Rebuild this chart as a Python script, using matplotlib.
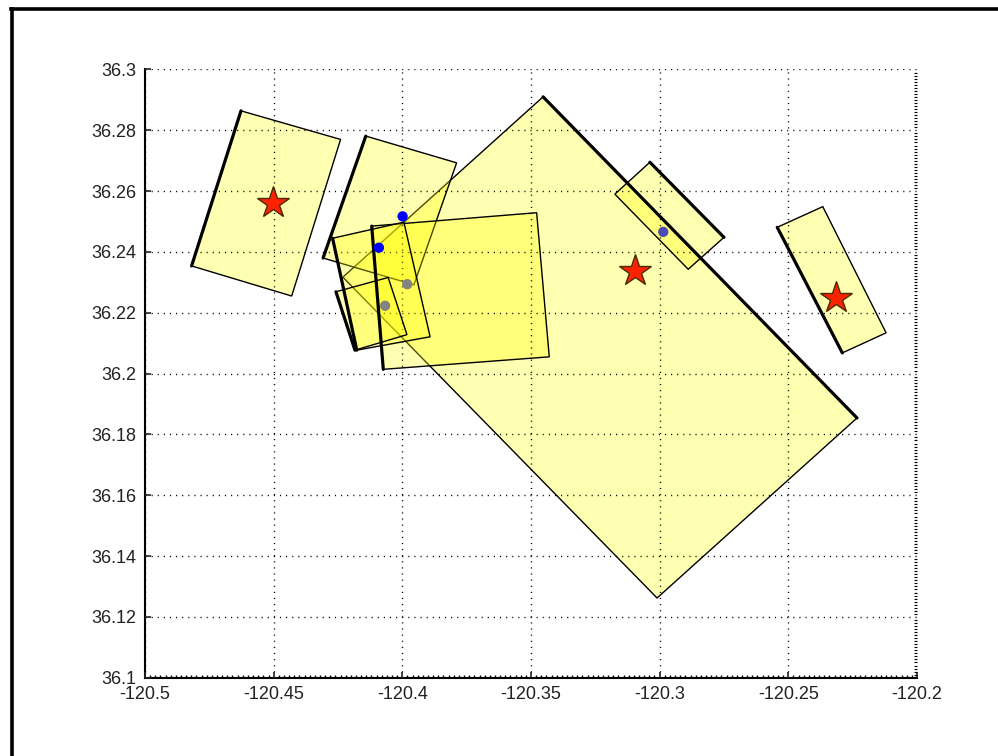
import numpy as np
import matplotlib
matplotlib.use('Agg')
import matplotlib.pyplot as plt
from matplotlib.patches import Polygon
from matplotlib.lines import Line2D
from matplotlib.ticker import MultipleLocator

plt.rcParams['font.family'] = ['Liberation Sans', 'DejaVu Sans']

# fault patches: corner longitudes / latitudes
patch_c_lon = [-120.3453, -120.2233, -120.3010, -120.4231]
patch_c_lat = [36.2910, 36.1854, 36.1262, 36.2317]
patch_a_lon = [-120.4627, -120.4240, -120.4430, -120.4819]
patch_a_lat = [36.2864, 36.2770, 36.2255, 36.2354]
patch_e_lon = [-120.2366, -120.2120, -120.2290, -120.2543]
patch_e_lat = [36.2549, 36.2134, 36.2068, 36.2481]
patch_d_lon = [-120.3038, -120.2750, -120.2889, -120.3174]
patch_d_lat = [36.2695, 36.2448, 36.2343, 36.2590]
patch_b_lon = [-120.4142, -120.3789, -120.3955, -120.4308]
patch_b_lat = [36.2781, 36.2693, 36.2292, 36.2380]
patch_f_lon = [-120.4119, -120.3478, -120.3429, -120.4074]
patch_f_lat = [36.2485, 36.2529, 36.2055, 36.2014]
patch_g_lon = [-120.4271, -120.3994, -120.3892, -120.4177]
patch_g_lat = [36.2445, 36.2498, 36.2121, 36.2077]
patch_h_lon = [-120.4258, -120.4055, -120.3982, -120.4184]
patch_h_lat = [36.2269, 36.2316, 36.2128, 36.2077]

patch_lons = [patch_c_lon, patch_a_lon, patch_e_lon, patch_d_lon,
              patch_b_lon, patch_f_lon, patch_g_lon, patch_h_lon]
patch_lats = [patch_c_lat, patch_a_lat, patch_e_lat, patch_d_lat,
              patch_b_lat, patch_f_lat, patch_g_lat, patch_h_lat]
# which side is the fault trace (index of its first corner)
trace_edge = [0, 3, 2, 0, 3, 3, 3, 3]

# epicentres (stars)
star_lon = [-120.4501, -120.3096, -120.2315]
star_lat = [36.2560, 36.2337, 36.2247]

# hypocentre dots
dot_lon = [-120.3999, -120.4091, -120.3981, -120.4067, -120.2986]
dot_lat = [36.2517, 36.2414, 36.2294, 36.2223, 36.2466]
dot_col = ['#0000ff', '#0000ff', '#828282', '#828282', '#4c4cb2']

x_ticks = [-120.5, -120.45, -120.4, -120.35, -120.3, -120.25, -120.2]
y_ticks = [36.1, 36.12, 36.14, 36.16, 36.18, 36.2, 36.22, 36.24, 36.26, 36.28, 36.3]

fig = plt.figure(figsize=(9.98, 7.56), dpi=100)
ax = fig.add_axes([0.1453, 0.1036, 0.7735, 0.8045])

for i in range(len(patch_lons)):
    xy = np.column_stack([patch_lons[i], patch_lats[i]])
    ax.add_patch(Polygon(xy, closed=True, facecolor=(1, 1, 0, 0.3),
                         edgecolor='black', linewidth=1.0, zorder=2 + i * 0.1))

# fault traces drawn thicker
for i in range(len(patch_lons)):
    k = trace_edge[i]
    k2 = (k + 1) % 4
    ax.plot([patch_lons[i][k], patch_lons[i][k2]],
            [patch_lats[i][k], patch_lats[i][k2]],
            color='black', linewidth=2.3, zorder=4, solid_capstyle='round')

ax.scatter(dot_lon, dot_lat, s=55, c=dot_col, edgecolors='none', zorder=5)
ax.plot(star_lon, star_lat, linestyle='none', marker='*', markersize=24,
        markerfacecolor='#ff2200', markeredgecolor='#4a2a00',
        markeredgewidth=1.0, zorder=6)

ax.set_xlim(-120.5, -120.2)
ax.set_ylim(36.1, 36.3)
ax.set_xticks(x_ticks)
ax.set_xticklabels(['%g' % round(v, 2) for v in x_ticks])
ax.set_yticks(y_ticks)
ax.set_yticklabels(['%g' % round(v, 2) for v in y_ticks])
ax.xaxis.set_minor_locator(MultipleLocator(0.002))
ax.yaxis.set_minor_locator(MultipleLocator(0.001))

ax.grid(True, which='major', color='black', linestyle=(0, (0.8, 3.6)), linewidth=1.0)
ax.set_axisbelow(False)
for g in ax.get_xgridlines() + ax.get_ygridlines():
    g.set_zorder(3)

ax.spines['top'].set_visible(False)
ax.spines['right'].set_visible(False)
ax.spines['left'].set_linewidth(1.5)
ax.spines['bottom'].set_linewidth(1.5)

ax.tick_params(which='major', direction='in', length=4, width=1.2,
               labelsize=13, pad=6, colors='#222222')
ax.tick_params(axis='x', which='minor', direction='in', length=2, width=1.0,
               bottom=True)
ax.tick_params(axis='y', which='minor', direction='in', length=2, width=0.8,
               left=False, right=True)

# thick figure border, top and left
fig.add_artist(Line2D([0.0115, 1.0], [0.9885, 0.9885], color='black',
                      linewidth=2.6, transform=fig.transFigure))
fig.add_artist(Line2D([0.0125, 0.0125], [0.0, 0.9885], color='black',
                      linewidth=2.6, transform=fig.transFigure))

fig.savefig('out.png', dpi=100)
